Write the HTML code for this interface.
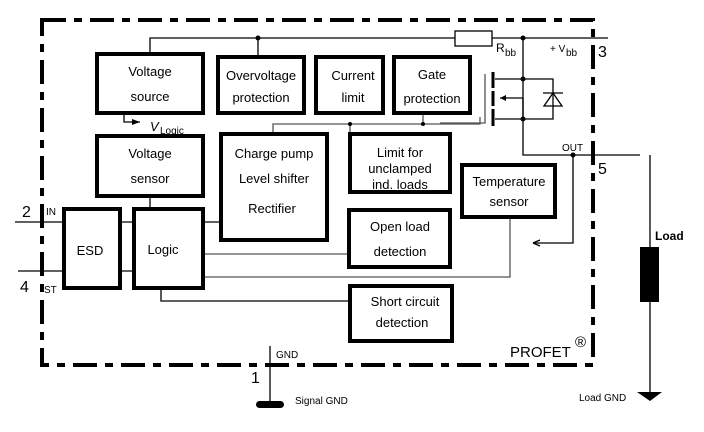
<!DOCTYPE html>
<html><head><meta charset="utf-8"><style>
html,body{margin:0;padding:0;background:#fff;}
svg{display:block;font-family:"Liberation Sans",Arial,sans-serif;}
</style></head><body>
<svg width="704" height="432" viewBox="0 0 704 432" xmlns="http://www.w3.org/2000/svg">
<rect width="704" height="432" fill="#fff"/>
<g stroke="#000" stroke-width="4" fill="none" stroke-dasharray="24,8,8,8">
<path d="M42,20 H593 V365 H42 Z"/>
</g>
<g stroke="#000" stroke-width="1.3" fill="none">
<path d="M150,52 V38 H455 M492,38 H608"/>
<path d="M258,38 V57"/>
<path d="M523,38 V119"/>
<path d="M495,79 H553 V119 H495"/>
<path d="M500,98 H523 V119"/>
<path d="M523,119 V155 H640"/>
<path d="M573,155 V243 H533"/>
<path d="M650,155 V392"/>
<path d="M15,222 H64 M18,271 H64"/>
<path d="M120,222 H134 M120,271 H134"/>
<path d="M203,222 H221"/>
<path d="M150,196 V209"/>
<path d="M161,288 V301 H350"/>
<path d="M270,346 V405"/>
<path d="M124,113 V122 H140"/>
</g>
<g stroke="#555" stroke-width="1.3" fill="none">
<path d="M273,134 V124 H480 V117"/>
<path d="M350,124 V134 M423,124 V113"/>
<path d="M203,254 H349"/>
<path d="M200,277 H510 V217"/>
<path d="M485,74 V123 H440"/>
</g>
<rect x="455" y="31" width="37" height="15" fill="#fff" stroke="#000" stroke-width="1.3"/>
<g stroke="#000" stroke-width="3">
<path d="M493,72 V88 M493,91 V106 M493,109 V126"/>
</g>
<g stroke="#000" stroke-width="1.3" fill="none">
<path d="M543,93 H563 M553,93 L544,106 H562 Z"/>
</g>
<path d="M500,98 l6,-3 v6 z" fill="#000"/>
<g fill="#000">
<circle cx="258" cy="38" r="2.5"/><circle cx="523" cy="38" r="2.5"/>
<circle cx="523" cy="79" r="2.5"/><circle cx="523" cy="119" r="2.5"/>
<circle cx="573" cy="155" r="2.5"/>
<circle cx="350" cy="124" r="2"/><circle cx="423" cy="124" r="2"/>
</g>
<path d="M533,243 l7,-3 M533,243 l7,3" stroke="#000" stroke-width="1.3"/>
<path d="M140,122 l-8,-3 v6 z" fill="#000"/>
<g stroke="#000" stroke-width="4" fill="#fff">
<rect x="97" y="54" width="106" height="59"/>
<rect x="218" y="57" width="86" height="56"/>
<rect x="316" y="57" width="67" height="56"/>
<rect x="394" y="57" width="76" height="56"/>
<rect x="97" y="136" width="106" height="60"/>
<rect x="221" y="134" width="106" height="106"/>
<rect x="350" y="134" width="100" height="58"/>
<rect x="462" y="165" width="93" height="52"/>
<rect x="64" y="209" width="56" height="79"/>
<rect x="134" y="209" width="69" height="79"/>
<rect x="349" y="210" width="101" height="57"/>
<rect x="350" y="286" width="102" height="55"/>
</g>
<rect x="640" y="247" width="19" height="55" fill="#000"/>
<path d="M637,392 H662 L650,401 Z" fill="#000"/>
<rect x="256" y="401" width="28" height="7" rx="3.5" fill="#000"/>
<g font-size="13" fill="#000" text-anchor="middle">
<text x="150" y="76">Voltage</text><text x="150" y="101">source</text>
<text x="261" y="80">Overvoltage</text><text x="261" y="102">protection</text>
<text x="353" y="80">Current</text><text x="353" y="102">limit</text>
<text x="432" y="79">Gate</text><text x="432" y="103">protection</text>
<text x="150" y="158">Voltage</text><text x="150" y="183">sensor</text>
<text x="274" y="158">Charge pump</text><text x="274" y="183">Level shifter</text><text x="272" y="213">Rectifier</text>
<text x="400" y="157">Limit for</text><text x="400" y="173">unclamped</text><text x="400" y="189">ind. loads</text>
<text x="509" y="186">Temperature</text><text x="509" y="206">sensor</text>
<text x="90" y="255">ESD</text>
<text x="163" y="254">Logic</text>
<text x="400" y="231">Open load</text><text x="400" y="256">detection</text>
<text x="405" y="306">Short circuit</text><text x="402" y="327">detection</text>
</g>
<g fill="#000">
<text x="150" y="131" font-size="13" font-style="italic">V</text><text x="160" y="134" font-size="10">Logic</text>
<text x="496" y="52" font-size="12">R</text><text x="505" y="56" font-size="10">bb</text>
<text x="550" y="52" font-size="10">+ V</text><text x="566" y="56" font-size="10">bb</text>
<text x="598" y="57" font-size="16">3</text>
<text x="598" y="174" font-size="16">5</text>
<text x="562" y="151" font-size="10">OUT</text>
<text x="655" y="240" font-size="12" font-weight="bold">Load</text>
<text x="579" y="401" font-size="10">Load GND</text>
<text x="295" y="404" font-size="10">Signal GND</text>
<text x="276" y="358" font-size="10">GND</text>
<text x="251" y="383" font-size="16">1</text>
<text x="22" y="217" font-size="16">2</text>
<text x="20" y="292" font-size="16">4</text>
<text x="46" y="215" font-size="10">IN</text>
<text x="44" y="293" font-size="10">ST</text>
<text x="510" y="357" font-size="15">PROFET</text>
<text x="575" y="347" font-size="15">®</text>
</g>
</svg>
</body></html>
